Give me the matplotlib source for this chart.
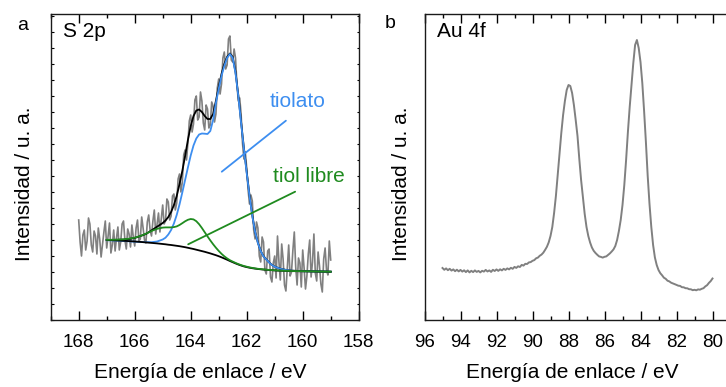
import numpy as np
import matplotlib
matplotlib.use("Agg")
import matplotlib.pyplot as plt
from matplotlib.ticker import MultipleLocator, NullFormatter

plt.rcParams['font.family'] = ['Liberation Sans', 'DejaVu Sans']

# ---- S 2p: raw spectrum, 168.00 -> 159.00 eV every 0.05 eV
s2p_raw_e = np.linspace(168.0, 159.0, 181)
s2p_raw = [100, 78, 64, 85, 90, 70, 79, 102, 96, 75,
           68, 89, 84, 66, 92, 81, 63, 76, 88, 99,
           72, 84, 97, 67, 75, 90, 69, 82, 93, 70,
           78, 96, 99, 80, 71, 91, 86, 73, 95, 83,
           74, 92, 100, 79, 81, 103, 92, 80, 77, 98,
           105, 90, 84, 99, 110, 86, 96, 107, 88, 102,
           115, 96, 99, 121, 118, 100, 104, 124, 126, 110,
           117, 141, 146, 128, 138, 165, 170, 160, 177, 199,
           205, 188, 196, 220, 224, 200, 203, 228, 219, 197,
           190, 215, 211, 192, 195, 218, 214, 198, 206, 232,
           241, 226, 236, 262, 268, 251, 255, 281, 284, 260,
           258, 271, 262, 236, 219, 222, 206, 177, 161, 168,
           152, 130, 116, 125, 119, 90, 81, 98, 92, 64,
           58, 83, 78, 50, 46, 69, 71, 43, 38, 57,
           64, 42, 84, 59, 40, 76, 61, 35, 29, 52,
           75, 44, 48, 70, 88, 53, 35, 62, 57, 33,
           70, 52, 31, 44, 66, 80, 43, 58, 86, 47,
           39, 68, 54, 36, 28, 61, 72, 50, 45, 79,
           60]

# ---- S 2p: fit curves
s2p_fit_e = [167.0, 166.8, 166.6, 166.4, 166.2, 166.0, 165.8, 165.6, 165.4, 165.2, 165.0,
             164.9, 164.8, 164.7, 164.6, 164.5, 164.4, 164.3, 164.2, 164.1, 164.0,
             163.9, 163.8, 163.7, 163.6, 163.5, 163.4, 163.3, 163.2, 163.1, 163.0,
             162.9, 162.8, 162.7, 162.6, 162.5, 162.4, 162.3, 162.2, 162.1, 162.0,
             161.9, 161.8, 161.7, 161.6, 161.5, 161.4, 161.3, 161.2, 161.1, 161.0,
             160.8, 160.6, 160.4, 160.2, 160.0, 159.8, 159.6, 159.4, 159.2, 159.0]
s2p_envelope = [80.0, 80.0, 80.2, 80.4, 81.0, 82.1, 83.9, 86.0, 89.6, 93.3, 97.0,
                99.5, 103.0, 108.0, 115.0, 124.0, 136.0, 149.0, 164.0, 180.0, 194.0,
                204.0, 209.5, 210.5, 208.0, 204.0, 201.0, 201.0, 206.0, 219.0, 233.0,
                246.0, 256.0, 263.0, 266.5, 263.0, 248.0, 225.0, 198.0, 172.0, 148.0,
                125.0, 104.5, 88.3, 77.2, 69.2, 63.7, 60.6, 57.6, 55.1, 53.4,
                51.3, 50.1, 49.4, 49.1, 48.9, 48.8, 48.7, 48.6, 48.4, 48.3]
s2p_tiolato = [79.8, 79.6, 79.3, 79.0, 78.7, 78.3, 78.0, 77.8, 77.8, 78.5, 80.5,
               82.3, 85.5, 90.0, 96.5, 105.0, 115.5, 127.5, 140.0, 152.5, 164.5,
               174.5, 181.5, 185.5, 186.5, 186.3, 186.0, 189.0, 200.0, 217.0, 231.0,
               244.0, 254.0, 262.0, 266.0, 262.0, 247.0, 224.0, 197.0, 171.0, 147.0,
               124.0, 104.0, 88.0, 77.0, 69.0, 63.5, 60.5, 57.5, 55.0, 53.3,
               51.2, 50.0, 49.3, 49.0, 48.8, 48.7, 48.6, 48.5, 48.4, 48.3]
s2p_tiol_libre = [80.2, 80.2, 80.4, 80.7, 81.3, 82.3, 84.0, 86.3, 89.0, 91.2, 92.4,
                  92.6, 92.6, 92.6, 92.9, 93.6, 95.0, 96.8, 98.7, 100.2, 101.0,
                  100.6, 98.8, 95.8, 92.0, 87.8, 83.6, 79.6, 75.8, 72.3, 69.1,
                  66.2, 63.7, 61.6, 59.8, 58.4, 57.1, 55.9, 54.9, 54.0, 53.3,
                  52.6, 52.1, 51.6, 51.2, 50.9, 50.6, 50.3, 50.1, 49.9, 49.7,
                  49.4, 49.2, 49.0, 48.9, 48.8, 48.7, 48.6, 48.5, 48.4, 48.3]
s2p_background = [80.0, 79.8, 79.5, 79.2, 78.9, 78.5, 78.1, 77.6, 77.1, 76.6, 76.0,
                  75.7, 75.3, 75.0, 74.6, 74.2, 73.8, 73.3, 72.8, 72.2, 71.6,
                  71.0, 70.3, 69.6, 68.9, 68.2, 67.4, 66.6, 65.7, 64.8, 63.8,
                  62.7, 61.5, 60.3, 59.0, 57.8, 56.6, 55.5, 54.5, 53.6, 52.9,
                  52.3, 51.8, 51.4, 51.0, 50.7, 50.4, 50.2, 50.0, 49.8, 49.6,
                  49.3, 49.1, 48.9, 48.8, 48.7, 48.6, 48.5, 48.4, 48.4, 48.3]

# ---- Au 4f spectrum, 95.0 -> 80.0 eV every 0.1 eV
au4f_e = np.linspace(95.0, 80.0, 151)
au4f = [52.0, 50.2, 51.6, 49.8, 51.2, 49.4, 50.6, 48.8, 50.3, 48.6,
        50.1, 48.4, 49.7, 47.9, 49.6, 47.6, 49.2, 47.9, 49.6, 48.1,
        49.1, 47.6, 49.2, 48.4, 50.1, 48.5, 49.6, 48.1, 50.2, 49.0,
        50.6, 49.1, 50.7, 49.6, 51.2, 50.1, 51.6, 50.6, 52.2, 51.2,
        53.1, 52.1, 53.7, 53.0, 55.1, 54.4, 56.2, 56.0, 57.6, 57.9,
        59.2, 59.9, 61.7, 62.4, 64.2, 65.4, 67.3, 70.1, 73.2, 77.6,
        84.0, 93.0, 107.0, 124.0, 145.0, 166.0, 187.0, 205.0, 219.0, 230.0,
        235.0, 234.0, 227.0, 215.0, 200.0, 184.0, 161.0, 140.0, 123.0, 106.0,
        93.0, 84.0, 77.5, 72.5, 69.2, 67.0, 65.2, 63.6, 63.1, 62.4,
        63.2, 63.6, 65.1, 66.6, 68.5, 70.6, 74.0, 80.0, 89.0, 100.0,
        115.0, 135.0, 160.0, 188.0, 213.0, 235.0, 257.0, 275.0, 280.0, 272.0,
        258.0, 237.0, 209.0, 178.0, 144.0, 116.0, 93.0, 75.0, 62.5, 55.0,
        50.0, 46.8, 44.7, 42.3, 41.2, 39.3, 38.6, 37.3, 36.6, 35.8,
        35.1, 34.3, 34.1, 32.8, 32.7, 31.8, 31.7, 30.8, 30.7, 29.8,
        30.2, 29.7, 30.6, 30.3, 31.2, 31.8, 33.6, 34.8, 37.1, 38.9, 41.5]

blue = '#3d8ef0'
green = '#1f8b1f'
gray = '#808080'
fs = 15

fig = plt.figure(figsize=(7.26, 3.87), dpi=100)
ax_a = fig.add_axes([50.7 / 726, 67 / 387, 308 / 726, 306 / 387])
ax_b = fig.add_axes([424.5 / 726, 67 / 387, 320.4 / 726, 306 / 387])

# panel a
ax_a.plot(s2p_raw_e, s2p_raw, color=gray, lw=1.2)
ax_a.plot(s2p_fit_e, s2p_envelope, color='black', lw=1.3)
ax_a.plot(s2p_fit_e, s2p_tiolato, color=blue, lw=1.3)
ax_a.plot(s2p_fit_e, s2p_background, color='black', lw=1.3)
ax_a.plot(s2p_fit_e, s2p_tiol_libre, color=green, lw=1.3)
ax_a.set_xlim(169, 158)
ax_a.set_ylim(0, 306)

ax_a.text(161.17, 213, 'tiolato', color=blue, fontsize=fs)
ax_a.text(161.06, 138, 'tiol libre', color=green, fontsize=fs)
ax_a.annotate('', xy=(162.89, 148.3), xytext=(160.6, 199.3),
              arrowprops=dict(arrowstyle='-', color=blue, lw=1.3, shrinkA=0, shrinkB=0))
ax_a.annotate('', xy=(164.09, 75.7), xytext=(160.27, 128.3),
              arrowprops=dict(arrowstyle='-', color=green, lw=1.3, shrinkA=0, shrinkB=0))
ax_a.text(0.039, 0.925, 'S 2p', transform=ax_a.transAxes, fontsize=fs)

# panel b
ax_b.plot(au4f_e, au4f, color=gray, lw=1.4)
ax_b.set_xlim(96, 78.2)
ax_b.set_ylim(0, 306)
ax_b.text(0.038, 0.925, 'Au 4f', transform=ax_b.transAxes, fontsize=fs)

for ax in (ax_a, ax_b):
    for sp in ax.spines.values():
        sp.set_linewidth(1.0)
        sp.set_color('#1a1a1a')
    ax.xaxis.set_major_locator(MultipleLocator(2))
    ax.xaxis.set_minor_locator(MultipleLocator(1))
    ax.tick_params(axis='x', which='major', direction='in', top=True, bottom=True,
                   length=6.5, width=1.0, labelsize=13.5, pad=10)
    ax.tick_params(axis='x', which='minor', direction='in', top=True, bottom=True,
                   length=3.2, width=1.0)
    ax.set_xlabel('Energía de enlace / eV', fontsize=fs)
    ax.set_ylabel('Intensidad / u. a.', fontsize=fs)

ax_a.yaxis.set_major_locator(MultipleLocator(16))
ax_a.yaxis.set_major_formatter(NullFormatter())
ax_a.tick_params(axis='y', direction='in', left=True, right=True, length=1.8, width=0.8)
ax_b.tick_params(axis='y', left=False, right=False, labelleft=False)

ax_a.xaxis.set_label_coords(0.4847, -0.14)
ax_b.xaxis.set_label_coords(0.46, -0.14)
ax_a.yaxis.set_label_coords(-0.054, 0.445)
ax_b.yaxis.set_label_coords(-0.043, 0.445)

fig.text(23 / 726, 1 - 29.5 / 387, 'a', fontsize=14, ha='center', va='baseline')
fig.text(390 / 726, 1 - 28.5 / 387, 'b', fontsize=14, ha='center', va='baseline')

fig.savefig('out.png', dpi=100)
